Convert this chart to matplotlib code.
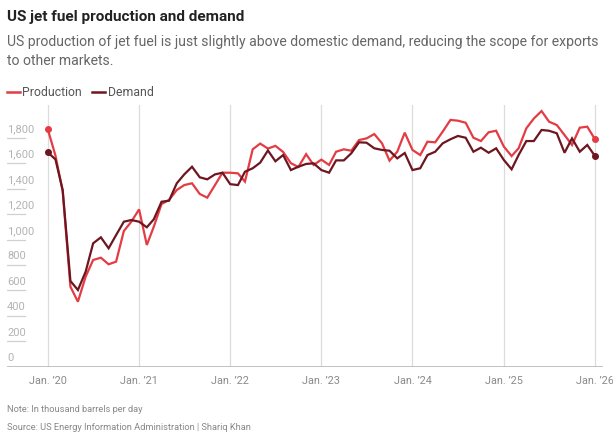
import matplotlib
matplotlib.use("Agg")
import matplotlib.pyplot as plt
import matplotlib.transforms as mtransforms
import matplotlib.dates as mdates
from matplotlib.lines import Line2D
import pandas as pd

plt.rcParams['font.family'] = ['Roboto', 'DejaVu Sans']

months = pd.date_range("2020-01-01", periods=73, freq="MS")

production = [1869, 1660, 1380, 629, 511, 708, 839, 857, 805, 826, 1067, 1140,
              1237, 957, 1101, 1279, 1311, 1389, 1428, 1442, 1358, 1329, 1428, 1525,
              1525, 1520, 1455, 1709, 1754, 1715, 1736, 1688, 1600, 1570, 1671, 1586,
              1628, 1586, 1690, 1709, 1698, 1782, 1795, 1829, 1756, 1620, 1690, 1840,
              1704, 1664, 1769, 1764, 1848, 1940, 1934, 1918, 1800, 1774, 1843, 1855,
              1730, 1656, 1717, 1874, 1951, 2010, 1926, 1900, 1821, 1743, 1879, 1887, 1788]

demand = [1686, 1630, 1389, 674, 603, 747, 970, 1017, 931, 1035, 1140, 1153,
          1140, 1096, 1159, 1297, 1305, 1442, 1512, 1572, 1489, 1473, 1512, 1525,
          1435, 1428, 1533, 1560, 1604, 1700, 1615, 1664, 1546, 1572, 1594, 1599,
          1546, 1525, 1622, 1622, 1678, 1764, 1761, 1717, 1704, 1698, 1638, 1680,
          1546, 1560, 1664, 1690, 1756, 1788, 1814, 1800, 1690, 1722, 1682, 1717,
          1625, 1552, 1664, 1774, 1774, 1861, 1855, 1835, 1682, 1795, 1690, 1743, 1656]

y_ticks = [0, 200, 400, 600, 800, 1000, 1200, 1400, 1600, 1800]
x_tick_labels = ["Jan. \u201920", "Jan. \u201921", "Jan. \u201922", "Jan. \u201923",
                 "Jan. \u201924", "Jan. \u201925", "Jan. \u201926"]
x_tick_dates = pd.to_datetime(["2020-01-01", "2021-01-01", "2022-01-01", "2023-01-01",
                               "2024-01-01", "2025-01-01", "2026-01-01"])

W, H = 613, 434
fig = plt.figure(figsize=(W / 100, H / 100), dpi=100)

def fx(px):
    return px / W

def fy(py):
    return 1 - py / H

# axes: x 7..603 px, y 105..366.7 px
ax = fig.add_axes([fx(7), fy(366.7), fx(603) - fx(7), fy(105) - fy(366.7)])

PROD_C = "#e33c44"
DEM_C = "#6e1620"

ax.plot(months, production, color=PROD_C, lw=1.6, solid_joinstyle="miter", zorder=3)
ax.plot(months, demand, color=DEM_C, lw=1.6, solid_joinstyle="miter", zorder=4)
ax.plot([months[0], months[-1]], [production[0], production[-1]], 'o', color=PROD_C, ms=4, zorder=5)
ax.plot([months[0], months[-1]], [demand[0], demand[-1]], 'o', color=DEM_C, ms=4, zorder=6)

# x limits: Jan'20 at 47.7px, Jan'26 at 595px
d0 = mdates.date2num(x_tick_dates[0])
d1 = mdates.date2num(x_tick_dates[-1])
span_px = 595 - 47.7
left = d0 - (47.7 - 7) / span_px * (d1 - d0)
right = d1 + (603 - 595) / span_px * (d1 - d0)
ax.set_xlim(left, right)
ax.set_ylim(0, (366.7 - 105) / 0.1272)

for s in ax.spines.values():
    s.set_visible(False)
ax.set_xticks([])
ax.set_yticks([])

# vertical gridlines
for d in x_tick_dates:
    ax.axvline(d, color="#dcdcdc", lw=0.9, zorder=1)

# baseline
ax.axhline(0, color="#b0b0b0", lw=1.8, zorder=2)

# y tick dashes and labels
blend = mtransforms.blended_transform_factory(ax.transAxes, ax.transData)
dash_w = 18 / 596
for v in y_ticks:
    if v != 0:
        ax.plot([0, dash_w], [v, v], transform=blend, color="#d0d0d0", lw=0.9, zorder=1)
    ax.text(0, v + 8.5 / 0.1272, f"{v:,}", transform=blend, ha="left", va="center",
            fontsize=8, color="#b3b3b3")

# x tick labels
for d, lab in zip(x_tick_dates, x_tick_labels):
    ax.text(d, -14.5 / 0.1272, lab, ha="center", va="center", fontsize=7.8, color="#8a8a8a")

# titles
fig.text(fx(7), fy(17), "US jet fuel production and demand", fontsize=11,
         fontweight="bold", color="#222222", ha="left", va="center")
fig.text(fx(7), fy(42), "US production of jet fuel is just slightly above domestic demand, reducing the scope for exports",
         fontsize=10.1, color="#666666", ha="left", va="center")
fig.text(fx(7), fy(61), "to other markets.", fontsize=10.1, color="#666666", ha="left", va="center")

# legend
fig.add_artist(Line2D([fx(7), fx(20)], [fy(92), fy(92)], color=PROD_C, lw=1.8))
fig.text(fx(22), fy(92), "Production", fontsize=8.8, color="#555555", ha="left", va="center")
fig.add_artist(Line2D([fx(92), fx(105)], [fy(92), fy(92)], color=DEM_C, lw=1.8))
fig.text(fx(108), fy(92), "Demand", fontsize=8.8, color="#555555", ha="left", va="center")

# notes
fig.text(fx(7), fy(410), "Note: In thousand barrels per day", fontsize=6.7, color="#888888",
         ha="left", va="center")
fig.text(fx(7), fy(428), "Source: US Energy Information Administration | Shariq Khan", fontsize=6.7,
         color="#888888", ha="left", va="center")

fig.savefig("out.png", dpi=100)
